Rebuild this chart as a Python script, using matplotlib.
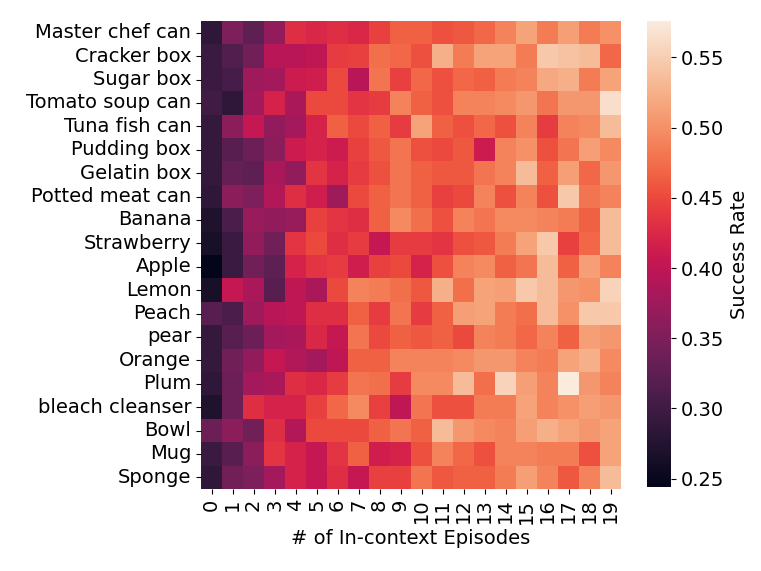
import numpy as np
import matplotlib
matplotlib.use('Agg')
import matplotlib.pyplot as plt
import seaborn as sns

objects = ['Master chef can', 'Cracker box', 'Sugar box', 'Tomato soup can',
           'Tuna fish can', 'Pudding box', 'Gelatin box', 'Potted meat can',
           'Banana', 'Strawberry', 'Apple', 'Lemon', 'Peach', 'pear',
           'Orange', 'Plum', 'bleach cleanser', 'Bowl', 'Mug', 'Sponge']
episodes = list(range(20))

# success rate per object (rows) x number of in-context episodes (cols)
success = [
    [0.285, 0.35, 0.325, 0.365, 0.43, 0.425, 0.43, 0.425, 0.445, 0.465, 0.465, 0.455, 0.46, 0.47, 0.49, 0.515, 0.485, 0.51, 0.485, 0.50],
    [0.295, 0.315, 0.34, 0.395, 0.395, 0.40, 0.44, 0.445, 0.475, 0.47, 0.455, 0.525, 0.485, 0.515, 0.515, 0.485, 0.545, 0.54, 0.535, 0.47],
    [0.295, 0.305, 0.375, 0.38, 0.41, 0.415, 0.45, 0.395, 0.48, 0.445, 0.47, 0.455, 0.47, 0.465, 0.485, 0.49, 0.52, 0.525, 0.485, 0.515],
    [0.30, 0.285, 0.38, 0.42, 0.385, 0.45, 0.45, 0.435, 0.44, 0.49, 0.465, 0.455, 0.49, 0.49, 0.495, 0.505, 0.48, 0.505, 0.505, 0.565],
    [0.29, 0.36, 0.405, 0.365, 0.378, 0.42, 0.465, 0.45, 0.465, 0.44, 0.515, 0.465, 0.455, 0.47, 0.455, 0.49, 0.44, 0.49, 0.495, 0.535],
    [0.29, 0.32, 0.335, 0.36, 0.41, 0.42, 0.41, 0.445, 0.46, 0.48, 0.455, 0.45, 0.46, 0.41, 0.49, 0.50, 0.455, 0.48, 0.51, 0.495],
    [0.29, 0.33, 0.325, 0.385, 0.365, 0.435, 0.42, 0.44, 0.455, 0.48, 0.465, 0.46, 0.46, 0.48, 0.49, 0.535, 0.465, 0.51, 0.47, 0.505],
    [0.285, 0.36, 0.35, 0.39, 0.43, 0.415, 0.375, 0.45, 0.465, 0.48, 0.465, 0.445, 0.45, 0.49, 0.455, 0.49, 0.455, 0.545, 0.48, 0.49],
    [0.27, 0.31, 0.37, 0.365, 0.37, 0.445, 0.435, 0.43, 0.465, 0.495, 0.475, 0.455, 0.49, 0.48, 0.495, 0.495, 0.49, 0.485, 0.465, 0.535],
    [0.265, 0.295, 0.365, 0.34, 0.435, 0.45, 0.43, 0.44, 0.405, 0.44, 0.44, 0.435, 0.455, 0.46, 0.485, 0.515, 0.545, 0.445, 0.47, 0.535],
    [0.245, 0.295, 0.34, 0.325, 0.42, 0.435, 0.44, 0.415, 0.445, 0.45, 0.42, 0.455, 0.49, 0.495, 0.465, 0.48, 0.535, 0.465, 0.51, 0.49],
    [0.265, 0.405, 0.385, 0.32, 0.40, 0.385, 0.45, 0.49, 0.485, 0.475, 0.46, 0.525, 0.475, 0.515, 0.51, 0.545, 0.535, 0.505, 0.50, 0.555],
    [0.32, 0.31, 0.375, 0.395, 0.40, 0.43, 0.43, 0.465, 0.44, 0.48, 0.44, 0.465, 0.51, 0.515, 0.485, 0.475, 0.535, 0.50, 0.545, 0.545],
    [0.29, 0.32, 0.335, 0.38, 0.385, 0.425, 0.405, 0.48, 0.45, 0.465, 0.46, 0.465, 0.45, 0.49, 0.485, 0.47, 0.49, 0.465, 0.51, 0.505],
    [0.29, 0.34, 0.365, 0.405, 0.39, 0.38, 0.40, 0.465, 0.465, 0.49, 0.49, 0.49, 0.495, 0.505, 0.505, 0.49, 0.485, 0.515, 0.525, 0.495],
    [0.285, 0.335, 0.378, 0.383, 0.43, 0.425, 0.44, 0.48, 0.475, 0.44, 0.495, 0.495, 0.535, 0.475, 0.555, 0.51, 0.49, 0.575, 0.505, 0.49],
    [0.27, 0.335, 0.43, 0.42, 0.42, 0.445, 0.47, 0.495, 0.445, 0.40, 0.48, 0.455, 0.455, 0.485, 0.485, 0.515, 0.49, 0.50, 0.51, 0.505],
    [0.335, 0.36, 0.34, 0.43, 0.39, 0.45, 0.45, 0.45, 0.465, 0.48, 0.465, 0.535, 0.505, 0.495, 0.49, 0.51, 0.525, 0.515, 0.505, 0.515],
    [0.295, 0.32, 0.36, 0.435, 0.42, 0.405, 0.435, 0.465, 0.415, 0.42, 0.455, 0.49, 0.47, 0.455, 0.49, 0.49, 0.485, 0.485, 0.455, 0.515],
    [0.285, 0.34, 0.35, 0.38, 0.42, 0.405, 0.43, 0.405, 0.445, 0.445, 0.48, 0.46, 0.465, 0.465, 0.485, 0.51, 0.49, 0.46, 0.49, 0.535],
]

data = np.array(success)

fig = plt.figure(figsize=(7.61, 5.71), dpi=100)
ax = fig.add_axes([201 / 761, 1 - 489 / 571, 420 / 761, 468 / 571])
cax = fig.add_axes([647 / 761, 1 - 487 / 571, 24 / 761, 466 / 571])

sns.heatmap(data, ax=ax, cbar_ax=cax, cmap='rocket', vmin=0.244, vmax=0.576,
            xticklabels=episodes, yticklabels=objects,
            cbar_kws={'label': 'Success Rate'})

ax.set_xlabel('# of In-context Episodes', fontsize=14)
ax.tick_params(axis='x', labelsize=14, rotation=90)
ax.tick_params(axis='y', labelsize=14, rotation=0)
cax.tick_params(labelsize=14)
cax.yaxis.label.set_size(14)
cax.set_yticks([0.25, 0.30, 0.35, 0.40, 0.45, 0.50, 0.55])

fig.savefig('out.png', dpi=100)
